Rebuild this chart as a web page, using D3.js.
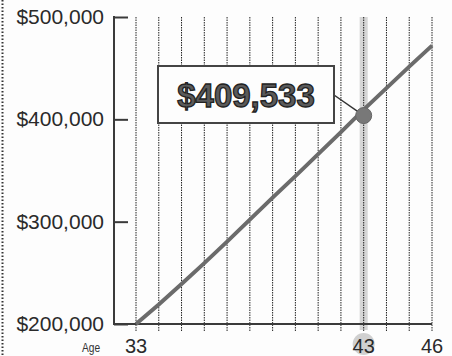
<!DOCTYPE html>
<html>
<head>
<meta charset="utf-8">
<style>
    body { margin: 0; background: #fdfdfd; }
    svg { display: block; }
    text { font-family: "Liberation Sans", Arial, sans-serif; }
</style>
</head>
<body>
<svg></svg>
<script src="https://d3js.org/d3.v7.min.js"></script>
<script>
    var vWidth = 452;
    var vHeight = 356;

    // values
    var ages = [33, 34, 35, 36, 37, 38, 39, 40, 41, 42, 43, 44, 45, 46];
    var values = [200000, 219000, 239000, 259500, 280500, 302000, 323500, 344500,
                  366000, 387500, 409533, 430500, 451500, 472000];
    var yTicks = [200000, 300000, 400000, 500000];
    var xLabels = [33, 43, 46];
    var highlightAge = 43;
    var highlightValue = 409533;

    var svg = d3.select('svg').attr('width', vWidth).attr('height', vHeight);

    var x = d3.scaleLinear().domain([33, 46]).range([136, 432]);
    var y = d3.scaleLinear().domain([200000, 500000]).range([324, 17]);
    var fmt = d3.format('$,');

    // dotted border on the left
    svg.append('line')
        .attr('x1', 2.5).attr('x2', 2.5).attr('y1', 0).attr('y2', vHeight)
        .attr('stroke', '#333').attr('stroke-width', 2).attr('stroke-dasharray', '1.5,2');

    // highlight band + circle for 43
    svg.append('rect')
        .attr('x', x(highlightAge) - 4).attr('y', y(500000))
        .attr('width', 8).attr('height', 330 - y(500000))
        .attr('fill', '#d6d6d6');
    svg.append('circle')
        .attr('cx', x(highlightAge)).attr('cy', 344).attr('r', 11)
        .attr('fill', '#d0d0d0');

    // vertical dotted grid, one per year
    svg.append('g').selectAll('line').data(ages).enter().append('line')
        .attr('x1', function (d) { return x(d); })
        .attr('x2', function (d) { return x(d); })
        .attr('y1', y(500000)).attr('y2', 332)
        .attr('stroke', '#222').attr('stroke-width', 1)
        .attr('stroke-dasharray', '1.5,1');

    // y axis
    var yAxis = d3.axisRight(y).tickValues(yTicks).tickSize(14).tickFormat('');
    var gy = svg.append('g').attr('transform', 'translate(114,0)').call(yAxis);
    gy.select('.domain').remove();
    gy.selectAll('.tick line').attr('stroke', '#3a3a3a').attr('stroke-width', 2);
    svg.append('line')
        .attr('x1', 114).attr('x2', 114).attr('y1', y(500000) - 1).attr('y2', y(200000) + 1)
        .attr('stroke', '#3a3a3a').attr('stroke-width', 2);
    svg.append('line')
        .attr('x1', 113).attr('x2', x(46)).attr('y1', y(200000)).attr('y2', y(200000))
        .attr('stroke', '#3a3a3a').attr('stroke-width', 2);

    svg.append('g').selectAll('text').data(yTicks).enter().append('text')
        .attr('x', 104).attr('y', function (d) { return y(d) + 7; })
        .attr('text-anchor', 'end')
        .attr('font-size', 21).attr('fill', '#2a2a2a')
        .text(function (d) { return fmt(d); });

    // x labels
    svg.append('defs').append('clipPath').attr('id', 'clipx')
        .append('rect').attr('x', 0).attr('y', 0).attr('width', 443).attr('height', vHeight);
    svg.append('g').attr('clip-path', 'url(#clipx)')
        .selectAll('text').data(xLabels).enter().append('text')
        .attr('x', function (d) { return x(d); }).attr('y', 353)
        .attr('text-anchor', 'middle')
        .attr('font-size', 20).attr('fill', '#2a2a2a')
        .text(function (d) { return d; });
    svg.append('text')
        .attr('x', 91).attr('y', 352).attr('text-anchor', 'middle')
        .attr('font-size', 12).attr('fill', '#333')
        .attr('transform', 'translate(91,0) scale(0.85,1) translate(-91,0)')
        .text('Age');

    // the line
    var line = d3.line()
        .x(function (d, i) { return x(ages[i]); })
        .y(function (d) { return y(d); });
    svg.append('path').datum(values)
        .attr('d', line)
        .attr('fill', 'none').attr('stroke', '#6b6b6b').attr('stroke-width', 4);

    // callout
    var cx = x(highlightAge), cy = y(highlightValue) + 6;
    svg.append('line')
        .attr('x1', 334).attr('y1', 95).attr('x2', cx).attr('y2', cy)
        .attr('stroke', '#333').attr('stroke-width', 1.5);
    svg.append('rect')
        .attr('x', 158).attr('y', 66).attr('width', 176).attr('height', 57)
        .attr('fill', '#fdfdfd').attr('stroke', '#444').attr('stroke-width', 2);
    svg.append('text')
        .attr('x', 246).attr('y', 107).attr('text-anchor', 'middle')
        .attr('font-size', 33).attr('font-weight', 'bold')
        .attr('fill', '#5a5a5a').attr('stroke', '#222').attr('stroke-width', 1.3)
        .text(fmt(highlightValue));
    svg.append('circle')
        .attr('cx', cx).attr('cy', cy).attr('r', 8)
        .attr('fill', '#787878').attr('stroke', '#666').attr('stroke-width', 1);
</script>
</body>
</html>
